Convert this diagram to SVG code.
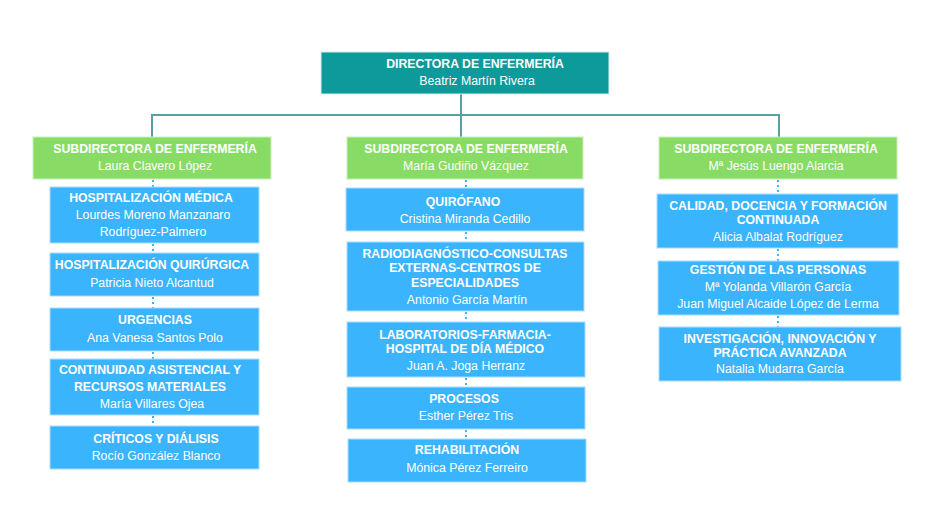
<svg xmlns="http://www.w3.org/2000/svg" width="930" height="523" viewBox="0 0 930 523">
<style>
text{font-family:"Liberation Sans",Arial,sans-serif;font-size:12.3px;fill:#ffffff;text-anchor:middle}
.b{font-weight:bold}
.dir{fill:#0E9A9A;stroke:#d8eeee;stroke-width:1}
.sub{fill:#88DC66;stroke:#c9efb8;stroke-width:1}
.box{fill:#3BB4FE;stroke:#a9dcff;stroke-width:1}
.main{fill:none;stroke:#5A9EA6;stroke-width:2}
.dot{fill:none;stroke:#3BB4FE;stroke-width:2;stroke-dasharray:2 3}
</style>
<rect width="930" height="523" fill="#ffffff"/>
<g id="connectors">
<path class="main" d="M461 94V137M152 137V115H779V137"/>
<path class="dot" d="M153 180V187M153 244V253M153 297V308M153 352V359M153 416V426"/>
<path class="dot" d="M466 180V188M466 232V242M466 312V322M466 378V387M466 430V439"/>
<path class="dot" d="M778 180V194M778 249V261M778 316V327"/>
</g>
<g id="director"><rect class="dir" x="321" y="52" width="288" height="42"/><text class="b" x="475" y="68">DIRECTORA DE ENFERMERÍA</text><text x="477" y="85">Beatriz Martín Rivera</text></g>
<g id="sub1"><rect class="sub" x="33" y="137" width="238" height="42"/><text class="b" x="155" y="153">SUBDIRECTORA DE ENFERMERÍA</text><text x="155" y="170">Laura Clavero López</text></g>
<g id="sub2"><rect class="sub" x="347" y="137" width="236" height="42"/><text class="b" x="466" y="153">SUBDIRECTORA DE ENFERMERÍA</text><text x="466" y="170">María Gudiño Vázquez</text></g>
<g id="sub3"><rect class="sub" x="659" y="137" width="238" height="42"/><text class="b" x="776" y="153">SUBDIRECTORA DE ENFERMERÍA</text><text x="776" y="170">Mª Jesús Luengo Alarcia</text></g>
<g id="hosp-medica"><rect class="box" x="50" y="187" width="209" height="56"/><text class="b" x="151" y="202">HOSPITALIZACIÓN MÉDICA</text><text x="153" y="219">Lourdes Moreno Manzanaro</text><text x="153" y="236">Rodríguez-Palmero</text></g>
<g id="hosp-quirurgica"><rect class="box" x="50" y="253" width="209" height="43"/><text class="b" x="152" y="269">HOSPITALIZACIÓN QUIRÚRGICA</text><text x="152" y="287">Patricia Nieto Alcantud</text></g>
<g id="urgencias"><rect class="box" x="50" y="308" width="209" height="43"/><text class="b" x="155" y="324">URGENCIAS</text><text x="155" y="342">Ana Vanesa Santos Polo</text></g>
<g id="continuidad"><rect class="box" x="50" y="359" width="209" height="56"/><text class="b" x="150" y="374">CONTINUIDAD ASISTENCIAL Y</text><text class="b" x="150" y="391">RECURSOS MATERIALES</text><text x="152" y="408">María Villares Ojea</text></g>
<g id="criticos"><rect class="box" x="50" y="426" width="209" height="43"/><text class="b" x="156" y="443">CRÍTICOS Y DIÁLISIS</text><text x="156" y="460">Rocío González Blanco</text></g>
<g id="quirofano"><rect class="box" x="346" y="188" width="238" height="43"/><text class="b" x="463" y="206">QUIRÓFANO</text><text x="465" y="223">Cristina Miranda Cedillo</text></g>
<g id="radio"><rect class="box" x="347" y="242" width="237" height="69"/><text class="b" x="465" y="258">RADIODIAGNÓSTICO-CONSULTAS</text><text class="b" x="465" y="272">EXTERNAS-CENTROS DE</text><text class="b" x="465" y="287">ESPECIALIDADES</text><text x="467" y="304">Antonio García Martín</text></g>
<g id="laboratorios"><rect class="box" x="347" y="322" width="238" height="55"/><text class="b" x="465" y="339">LABORATORIOS-FARMACIA-</text><text class="b" x="465" y="353">HOSPITAL DE DÍA MÉDICO</text><text x="466" y="370">Juan A. Joga Herranz</text></g>
<g id="procesos"><rect class="box" x="347" y="387" width="238" height="42"/><text class="b" x="464" y="403">PROCESOS</text><text x="466" y="420">Esther Pérez Tris</text></g>
<g id="rehabilitacion"><rect class="box" x="348" y="439" width="238" height="43"/><text class="b" x="467" y="454">REHABILITACIÓN</text><text x="467" y="472">Mónica Pérez Ferreiro</text></g>
<g id="calidad"><rect class="box" x="657" y="194" width="241" height="54"/><text class="b" x="778" y="210">CALIDAD, DOCENCIA Y FORMACIÓN</text><text class="b" x="778" y="224">CONTINUADA</text><text x="778" y="241">Alicia Albalat Rodríguez</text></g>
<g id="gestion"><rect class="box" x="658" y="261" width="241" height="54"/><text class="b" x="778" y="274">GESTIÓN DE LAS PERSONAS</text><text x="778" y="291">Mª Yolanda Villarón García</text><text x="778" y="308">Juan Miguel Alcaide López de Lerma</text></g>
<g id="investigacion"><rect class="box" x="659" y="327" width="242" height="54"/><text class="b" x="780" y="343">INVESTIGACIÓN, INNOVACIÓN Y</text><text class="b" x="780" y="357">PRÁCTICA AVANZADA</text><text x="780" y="373">Natalia Mudarra García</text></g>
</svg>
